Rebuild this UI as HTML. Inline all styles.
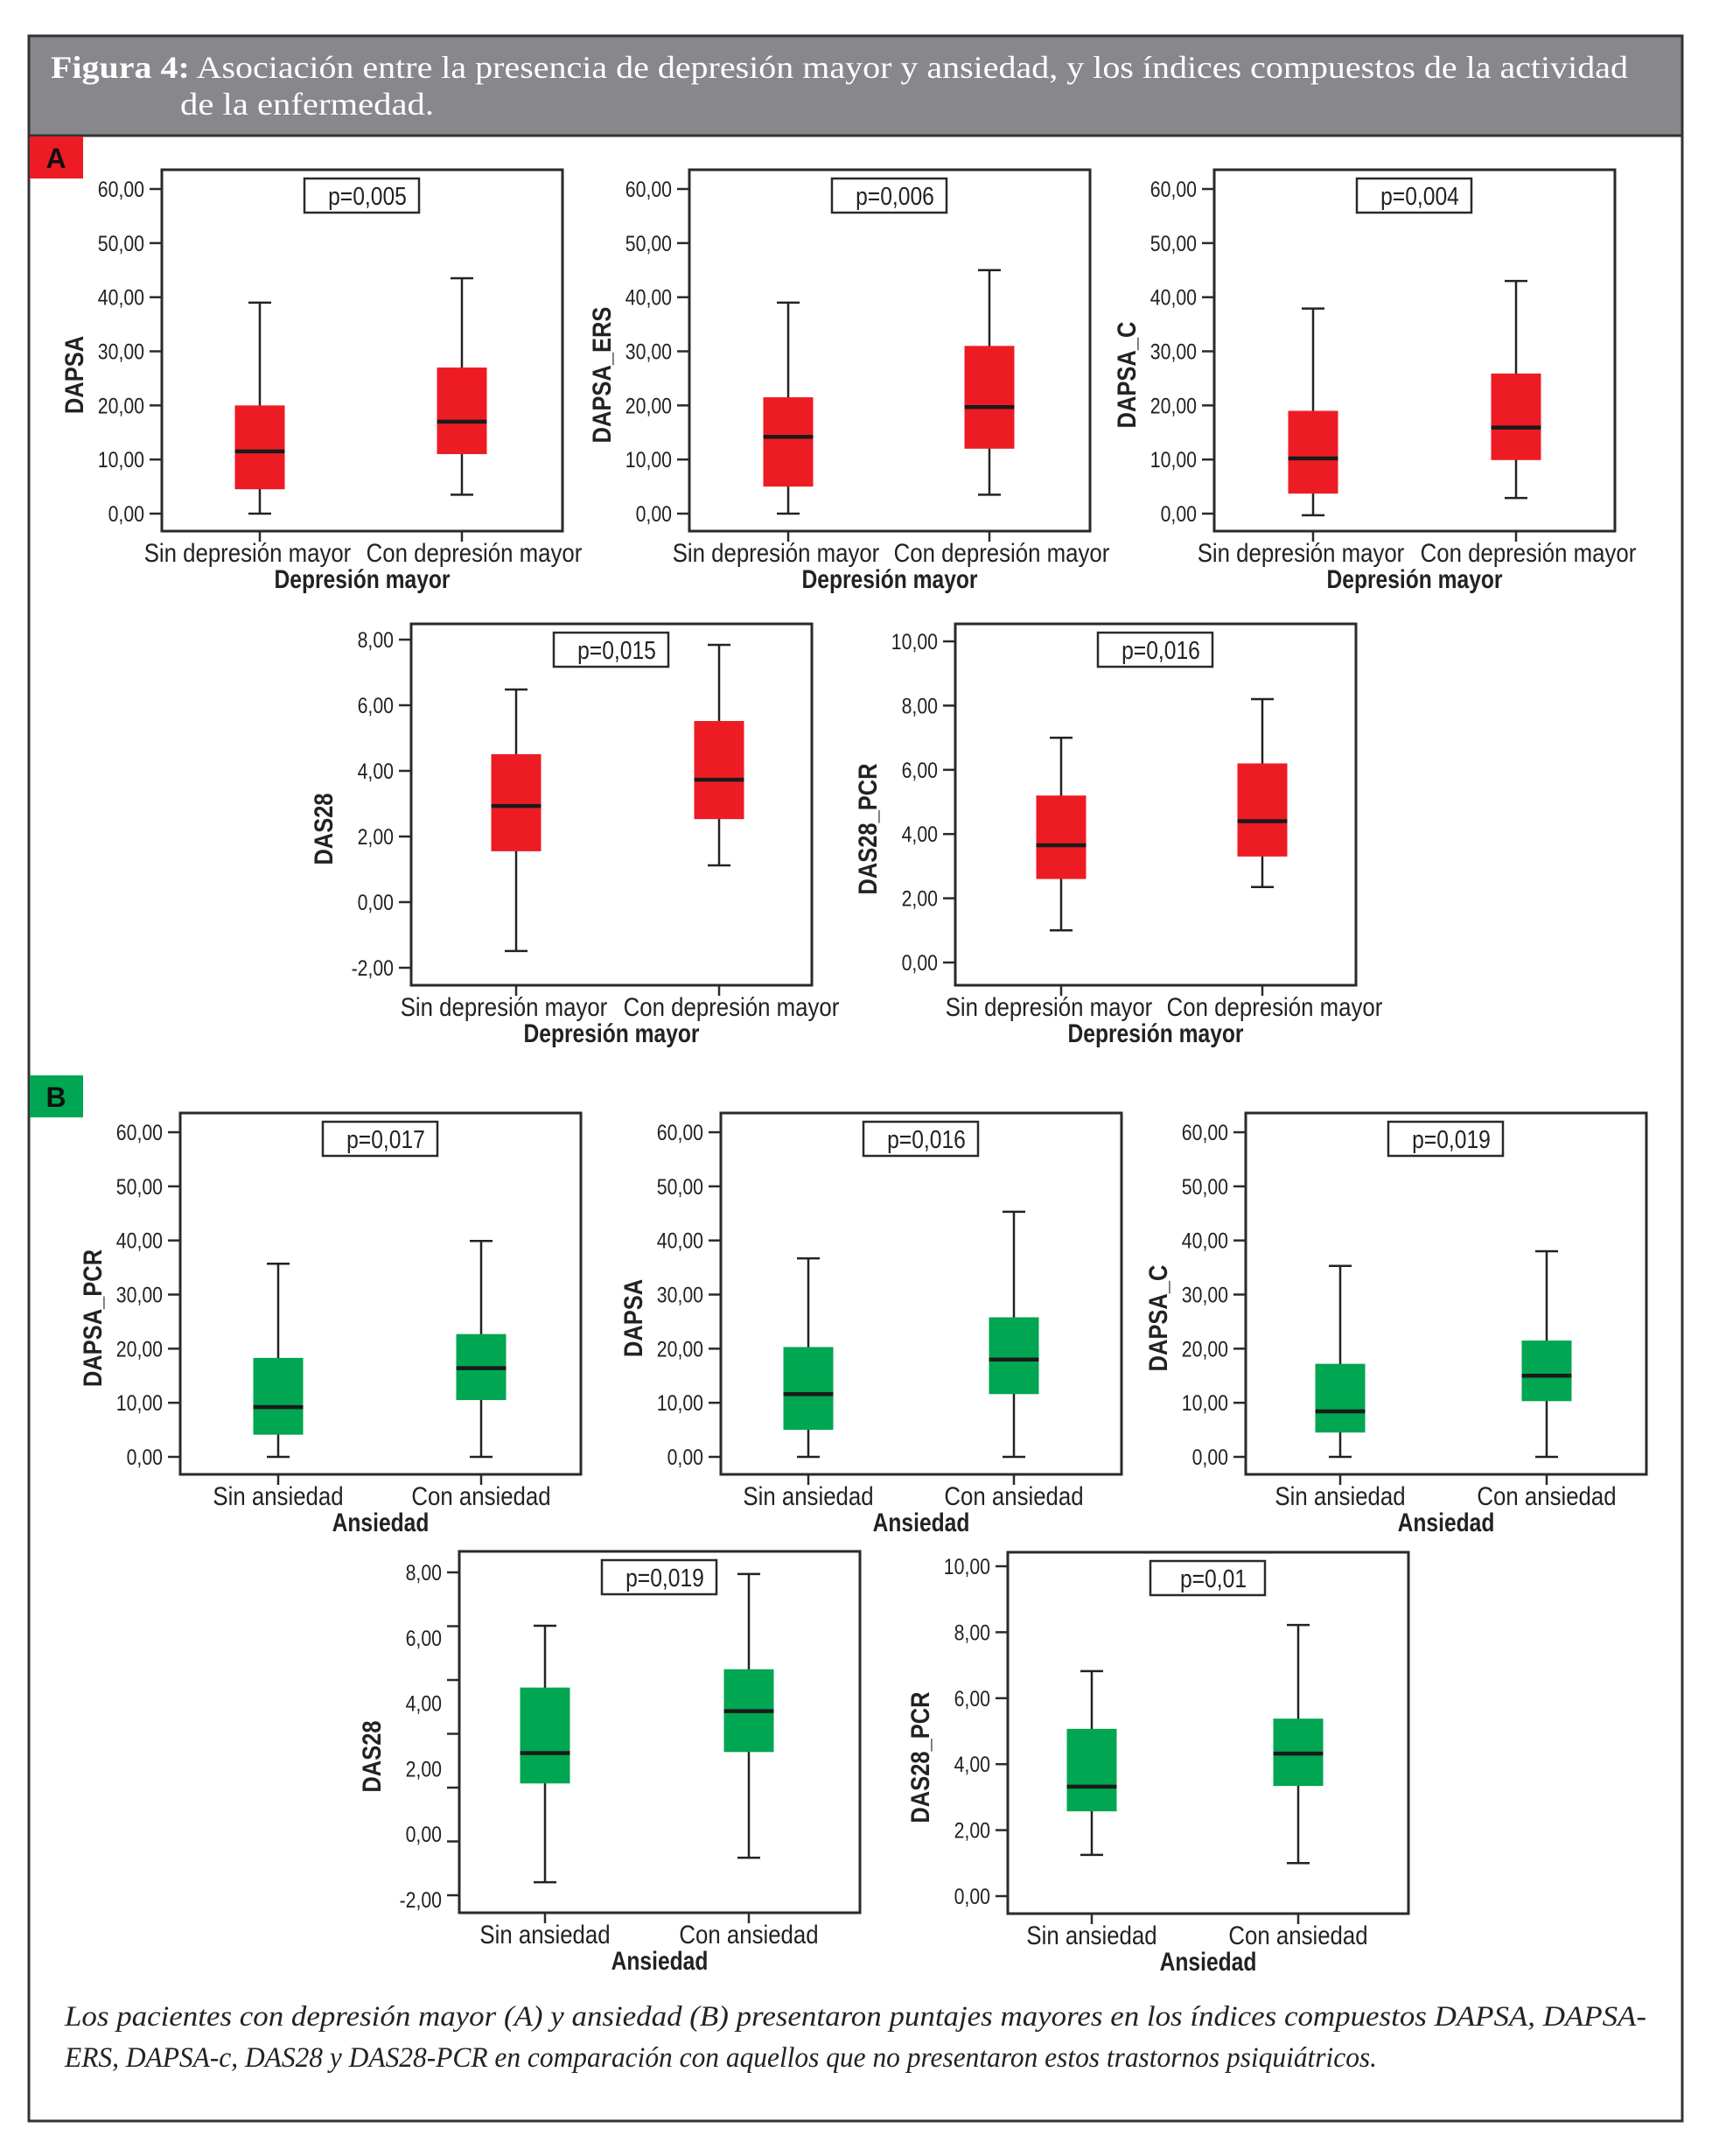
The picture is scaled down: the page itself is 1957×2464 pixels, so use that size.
<!DOCTYPE html>
<html><head><meta charset="utf-8">
<style>
html,body{margin:0;padding:0;background:#fff;}
svg{display:block;}
.tk{font-family:"Liberation Sans Narrow","Liberation Sans",sans-serif;font-size:25px;fill:#222;}
.cat{font-family:"Liberation Sans Narrow","Liberation Sans",sans-serif;font-size:30px;fill:#222;}
.ttl{font-family:"Liberation Sans Narrow","Liberation Sans",sans-serif;font-size:30px;font-weight:bold;fill:#222;}
.pv{font-family:"Liberation Sans Narrow","Liberation Sans",sans-serif;font-size:29px;fill:#222;}
</style></head>
<body>
<svg id="fig" width="1957" height="2464" viewBox="0 0 1957 2464" xmlns="http://www.w3.org/2000/svg">
  <rect x="33" y="41" width="1890" height="2383" fill="#fff" stroke="#333" stroke-width="3"/>
  <rect x="33" y="41" width="1890" height="114" fill="#88878c" stroke="#333" stroke-width="3"/>
  <text x="58" y="89" textLength="1803" lengthAdjust="spacingAndGlyphs" font-family="Liberation Serif, serif" font-size="36" fill="#fff"><tspan font-weight="bold">Figura 4:</tspan> Asociación entre la presencia de depresión mayor y ansiedad, y los índices compuestos de la actividad</text>
  <text x="206" y="131" textLength="290" lengthAdjust="spacingAndGlyphs" font-family="Liberation Serif, serif" font-size="36" fill="#fff">de la enfermedad.</text>
  <rect x="34" y="156" width="61" height="48" fill="#ed1c24"/>
  <text x="64" y="192" text-anchor="middle" font-family="Liberation Sans, sans-serif" font-weight="bold" font-size="32" fill="#111">A</text>
  <rect x="34" y="1229" width="61" height="48" fill="#00a651"/>
  <text x="64" y="1265" text-anchor="middle" font-family="Liberation Sans, sans-serif" font-weight="bold" font-size="32" fill="#111">B</text>
  <text x="74" y="2315" textLength="1808" lengthAdjust="spacingAndGlyphs" font-family="Liberation Serif, serif" font-style="italic" font-size="33" fill="#222">Los pacientes con depresión mayor (A) y ansiedad (B) presentaron puntajes mayores en los índices compuestos DAPSA, DAPSA-</text>
  <text x="74" y="2362" textLength="1500" lengthAdjust="spacingAndGlyphs" font-family="Liberation Serif, serif" font-style="italic" font-size="33" fill="#222">ERS, DAPSA-c, DAS28 y DAS28-PCR en comparación con aquellos que no presentaron estos trastornos psiquiátricos.</text>
</svg>
<script>
// ---- data: [min, q1, median, q3, max] per group ----
const depCategories = ["Sin depresión mayor", "Con depresión mayor"];
const anxCategories = ["Sin ansiedad", "Con ansiedad"];
const ticks60 = [0, 10, 20, 30, 40, 50, 60];
const ticks8 = [-2, 0, 2, 4, 6, 8];
const ticks10 = [0, 2, 4, 6, 8, 10];

const dapsaSinDep = [0, 4.5, 11.5, 20, 39];
const dapsaConDep = [3.5, 11, 17, 27, 43.5];
const ersSinDep = [0, 5, 14.2, 21.5, 39];
const ersConDep = [3.5, 12, 19.7, 31, 45];
const dapsacSinDep = [-0.3, 3.7, 10.2, 19, 37.9];
const dapsacConDep = [2.9, 9.9, 15.9, 25.9, 43];
const das28SinDep = [-1.49, 1.55, 2.93, 4.51, 6.48];
const das28ConDep = [1.12, 2.53, 3.73, 5.52, 7.84];
const pcrSinDep = [1.0, 2.6, 3.65, 5.2, 7.0];
const pcrConDep = [2.35, 3.3, 4.4, 6.2, 8.2];

const dapsapcrSinAnx = [0, 4.1, 9.2, 18.3, 35.7];
const dapsapcrConAnx = [0, 10.5, 16.4, 22.7, 39.9];
const dapsaSinAnx = [0, 5, 11.6, 20.3, 36.7];
const dapsaConAnx = [0, 11.6, 18, 25.8, 45.3];
const dapsacSinAnx = [0, 4.5, 8.4, 17.2, 35.3];
const dapsacConAnx = [0, 10.3, 15, 21.5, 38];
const das28SinAnx = [-1.47, 1.55, 2.48, 4.48, 6.37];
const das28ConAnx = [-0.72, 2.51, 3.76, 5.04, 7.95];
const pcrSinAnx = [1.25, 2.57, 3.32, 5.07, 6.82];
const pcrConAnx = [1.0, 3.34, 4.32, 5.38, 8.22];

const pValues = ["p=0,005","p=0,006","p=0,004","p=0,015","p=0,016","p=0,017","p=0,016","p=0,019","p=0,019","p=0,01"];

const RED = "#ed1c24", GREEN = "#00a651";
const NS = "http://www.w3.org/2000/svg";
const svg = document.getElementById("fig");

const charts = [
 {x:185,y:194,yl:"DAPSA",cats:depCategories,title:"Depresión mayor",ticks:ticks60,d:[dapsaSinDep,dapsaConDep],c:RED,pt:22,pb:20,cx:[112,343],p:0,lo:14},
 {x:788,y:194,yl:"DAPSA_ERS",cats:depCategories,title:"Depresión mayor",ticks:ticks60,d:[ersSinDep,ersConDep],c:RED,pt:22,pb:20,cx:[113,343],p:1,lo:14},
 {x:1388,y:194,yl:"DAPSA_C",cats:depCategories,title:"Depresión mayor",ticks:ticks60,d:[dapsacSinDep,dapsacConDep],c:RED,pt:22,pb:20,cx:[113,345],p:2,lo:14},
 {x:470,y:713,yl:"DAS28",cats:depCategories,title:"Depresión mayor",ticks:ticks8,d:[das28SinDep,das28ConDep],c:RED,pt:18,pb:20,cx:[120,352],p:3,lo:14},
 {x:1092,y:713,yl:"DAS28_PCR",cats:depCategories,title:"Depresión mayor",ticks:ticks10,d:[pcrSinDep,pcrConDep],c:RED,pt:20,pb:26,cx:[121,351],p:4,lo:14},
 {x:206,y:1272,yl:"DAPSA_PCR",cats:anxCategories,title:"Ansiedad",ticks:ticks60,d:[dapsapcrSinAnx,dapsapcrConAnx],c:GREEN,pt:22,pb:20,cx:[112,344],p:5,lo:0},
 {x:824,y:1272,yl:"DAPSA",cats:anxCategories,title:"Ansiedad",ticks:ticks60,d:[dapsaSinAnx,dapsaConAnx],c:GREEN,pt:22,pb:20,cx:[100,335],p:6,lo:0},
 {x:1424,y:1272,yl:"DAPSA_C",cats:anxCategories,title:"Ansiedad",ticks:ticks60,d:[dapsacSinAnx,dapsacConAnx],c:GREEN,pt:22,pb:20,cx:[108,344],p:7,lo:0},
 {x:525,y:1773,yl:"DAS28",cats:anxCategories,title:"Ansiedad",ticks:ticks8,d:[das28SinAnx,das28ConAnx],c:GREEN,pt:24,pb:15,cx:[98,331],p:8,oddTicks:7,lo:0},
 {x:1152,y:1774,yl:"DAS28_PCR",cats:anxCategories,title:"Ansiedad",ticks:ticks10,d:[pcrSinAnx,pcrConAnx],c:GREEN,pt:16,pb:20,cx:[96,332],p:9,lo:0}
];
const W = 458, H = 413;

function mk(tag, attrs, parent) {
  const e = document.createElementNS(NS, tag);
  for (const k in attrs) e.setAttribute(k, attrs[k]);
  (parent || svg).appendChild(e);
  return e;
}
function condense(el, f) {
  const w = el.getComputedTextLength();
  if (w > 0) {
    el.setAttribute("textLength", (w * f).toFixed(1));
    el.setAttribute("lengthAdjust", "spacingAndGlyphs");
  }
}
function fmt(v){ return v.toFixed(2).replace(".", ","); }

charts.forEach((ch, i) => {
  const g = mk("g", {});
  
  
  const lo = ch.ticks[0], hi = ch.ticks[ch.ticks.length-1];
  const y0 = ch.y + ch.pt, y1 = ch.y + H - ch.pb;
  const yScale = v => y1 - (v - lo) / (hi - lo) * (y1 - y0);
  const fr = mk("rect", {x:ch.x, y:ch.y, width:W, height:H, fill:"none", stroke:"#2a2a2a", "stroke-width":3}, g);
  
  
  if (ch.oddTicks) {
    const bottomTick = ch.y + H - 20;
    for (let k = 0; k < ch.oddTicks; k++) {
      const ty = y0 + k * (bottomTick - y0) / (ch.oddTicks - 1);
      const tm = mk("line", {x1:ch.x-14, x2:ch.x, y1:ty, y2:ty, stroke:"#2a2a2a", "stroke-width":2.5}, g);
      
      
    }
  }
  ch.ticks.forEach(t => {
    const ty = yScale(t);
    if (!ch.oddTicks) {
      const tm = mk("line", {x1:ch.x-14, x2:ch.x, y1:ty, y2:ty, stroke:"#2a2a2a", "stroke-width":2.5}, g);
      
      
    }
    const tl = mk("text", {x:ch.x-20, y:ty+9, "text-anchor":"end", class:"tk"}, g);
    tl.textContent = fmt(t);
    
    
    condense(tl, 0.85);
  });
  const yc = ch.y + H/2 + 28, yx = ch.x - 100;
  const yt = mk("text", {x:yx, y:yc, "text-anchor":"middle", class:"ttl", transform:`rotate(-90 ${yx} ${yc})`, dy:"10"}, g);
  yt.textContent = ch.yl;
  
  
  condense(yt, 0.85);
  const pb = mk("rect", {x:ch.x+W/2-66, y:ch.y+10, width:131, height:39, fill:"#fff", stroke:"#2a2a2a", "stroke-width":2.5}, g);
  
  
  const pt = mk("text", {x:ch.x+W/2+6, y:ch.y+40, "text-anchor":"middle", class:"pv"}, g);
  pt.textContent = pValues[ch.p];
  
  
  condense(pt, 0.85);
  ch.d.forEach((s, j) => {
    const cx = ch.x + ch.cx[j];
    const bw = 57, cap = 26;
    const xt = mk("line", {x1:cx, x2:cx, y1:ch.y+H, y2:ch.y+H+12, stroke:"#2a2a2a", "stroke-width":2.5}, g);
    
    
    const wl = mk("line", {x1:cx, x2:cx, y1:yScale(s[0]), y2:yScale(s[4]), stroke:"#222", "stroke-width":2.5}, g);
    
    
    [s[0], s[4]].forEach(v => {
      const c = mk("line", {x1:cx-cap/2, x2:cx+cap/2, y1:yScale(v), y2:yScale(v), stroke:"#222", "stroke-width":2.5}, g);
      
      
    });
    const b = mk("rect", {x:cx-bw/2, y:yScale(s[3]), width:bw, height:yScale(s[1])-yScale(s[3]), fill:ch.c}, g);
    
    
    const m = mk("line", {x1:cx-bw/2, x2:cx+bw/2, y1:yScale(s[2]), y2:yScale(s[2]), stroke:"#1a1a1a", "stroke-width":4.5}, g);
    
    
    const lx = cx + (j === 0 ? -ch.lo : ch.lo);
    const cl = mk("text", {x:lx, y:ch.y+H+35, "text-anchor":"middle", class:"cat"}, g);
    cl.textContent = ch.cats[j];
    
    
    condense(cl, 0.86);
  });
  const xtl = mk("text", {x:ch.x+W/2, y:ch.y+H+65, "text-anchor":"middle", class:"ttl"}, g);
  xtl.textContent = ch.title;
  
  
  condense(xtl, 0.82);
});
</script>
</body></html>
